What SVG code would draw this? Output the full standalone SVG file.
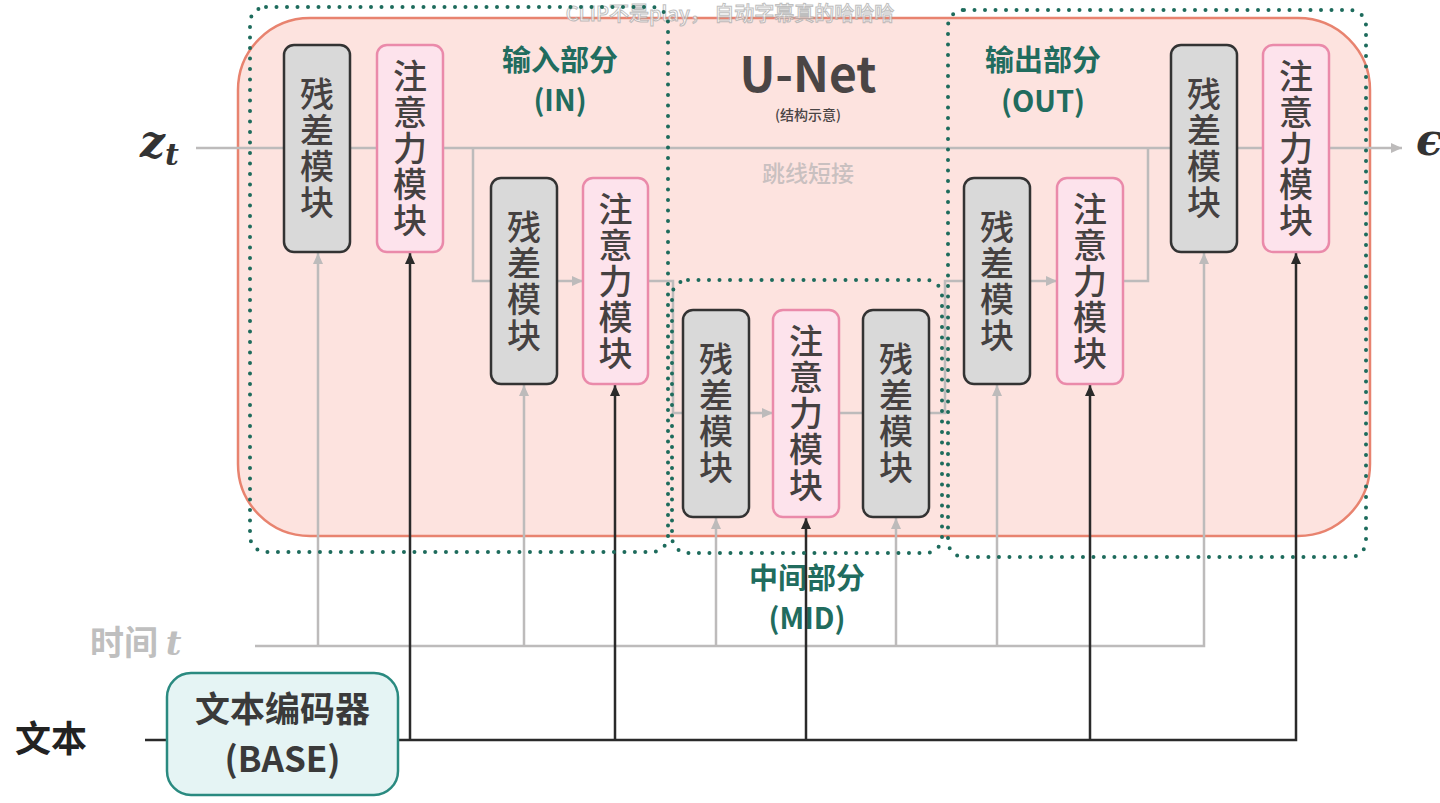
<svg xmlns="http://www.w3.org/2000/svg" width="1440" height="803" viewBox="0 0 1440 803">
<defs>
<style>
.res{fill:#d9d9d9;stroke:#333;stroke-width:2.5}
.att{fill:#fde3ec;stroke:#ea8aaa;stroke-width:2.5}
.blk{font-family:"Noto Sans CJK SC",sans-serif;font-weight:500;font-size:34px;fill:#454141;text-anchor:middle;writing-mode:vertical-rl;letter-spacing:2px}
.lab{font-family:"Noto Sans CJK SC",sans-serif;font-weight:700;font-size:29px;fill:#216c5e;text-anchor:middle}
.dot{fill:none;stroke:#1d6b5c;stroke-width:4;stroke-dasharray:0 10.5;stroke-linecap:round}
.g{fill:none;stroke:#bdbbbb;stroke-width:2.5}
.k{fill:none;stroke:#2a2a2a;stroke-width:2.5}
.math{font-family:"DejaVu Serif","Liberation Serif",serif;font-style:italic;font-weight:700}
</style>
<marker id="ag" markerUnits="userSpaceOnUse" markerWidth="12" markerHeight="12" viewBox="0 0 12 12" refX="11" refY="6" orient="auto"><path d="M0,1 L11,6 L0,11 Z" fill="#bdbbbb"/></marker>
<marker id="ak" markerUnits="userSpaceOnUse" markerWidth="12" markerHeight="12" viewBox="0 0 12 12" refX="11" refY="6" orient="auto"><path d="M0,1 L11,6 L0,11 Z" fill="#2a2a2a"/></marker>
</defs>
<rect width="1440" height="803" fill="#ffffff"/>

<g id="unet-frame">
<rect x="238" y="18" width="1132" height="518" rx="72" fill="#fde3df" stroke="#e8836f" stroke-width="2.5"/>
</g>

<g id="labels">
<text x="808" y="92" font-family="Noto Sans CJK SC,sans-serif" font-weight="700" font-size="48" fill="#4a4545" text-anchor="middle">U-Net</text>
<text x="808" y="120" font-family="Noto Sans CJK SC,sans-serif" font-weight="500" font-size="14" fill="#4a4545" text-anchor="middle">(结构示意)</text>
<text x="808" y="182" font-family="Noto Sans CJK SC,sans-serif" font-weight="500" font-size="23" fill="#c9c0c0" text-anchor="middle">跳线短接</text>
<text class="lab" x="560" y="71">输入部分</text>
<text class="lab" x="560" y="111">(IN)</text>
<text class="lab" x="1043" y="71">输出部分</text>
<text class="lab" x="1043" y="112">(OUT)</text>
<text class="lab" x="807" y="589">中间部分</text>
<text class="lab" x="807" y="629">(MID)</text>
<text class="math" x="140" y="157" font-size="44" fill="#333">z<tspan font-size="30" dy="8">t</tspan></text>
<text class="math" x="1416" y="155" font-size="44" fill="#333">ϵ</text>
<text x="90" y="655" font-family="Noto Sans CJK SC,sans-serif" font-weight="700" font-size="34" fill="#bfbfbf">时间 <tspan class="math" font-size="34">t</tspan></text>
<text x="15" y="752" font-family="Noto Sans CJK SC,sans-serif" font-weight="700" font-size="36" fill="#222">文本</text>
<text x="730" y="21" font-family="Noto Sans CJK SC,sans-serif" font-weight="500" font-size="20" fill="#ffffff" stroke="#b0b0b0" stroke-width="1" opacity="0.8" text-anchor="middle">CLIP不是play， 自动字幕真的哈哈哈</text>
</g>

<g id="connectors">
<path class="g" d="M196 148 H284"/>
<path class="g" d="M350 148 H377"/>
<path class="g" d="M443 148 H1171"/>
<path class="g" d="M1237 148 H1263"/>
<path class="g" d="M1329 148 H1402" marker-end="url(#ag)"/>
<path class="g" d="M473 148 V281 H491"/>
<path class="g" d="M557 281 H583" marker-end="url(#ag)"/>
<path class="g" d="M648 281 H673 V413 H683"/>
<path class="g" d="M749 413 H773" marker-end="url(#ag)"/>
<path class="g" d="M839 413 H863"/>
<path class="g" d="M929 413 H945 V281 H964"/>
<path class="g" d="M1030 281 H1057" marker-end="url(#ag)"/>
<path class="g" d="M1123 281 H1148 V148"/>
<path class="g" d="M255 646 H1204 V253" marker-end="url(#ag)"/>
<path class="g" d="M318 646 V253" marker-end="url(#ag)"/>
<path class="g" d="M524 646 V385" marker-end="url(#ag)"/>
<path class="g" d="M716 646 V518" marker-end="url(#ag)"/>
<path class="g" d="M896 646 V518" marker-end="url(#ag)"/>
<path class="g" d="M997 646 V385" marker-end="url(#ag)"/>
<path class="k" d="M145 740 H167"/>
<path class="k" d="M398 740 H1296 V253" marker-end="url(#ak)"/>
<path class="k" d="M410 740 V253" marker-end="url(#ak)"/>
<path class="k" d="M615 740 V385" marker-end="url(#ak)"/>
<path class="k" d="M806 740 V518" marker-end="url(#ak)"/>
<path class="k" d="M1090 740 V385" marker-end="url(#ak)"/>
</g>

<g id="in-res1"><rect class="res" x="284" y="45" width="66" height="207" rx="10"/><text class="blk" x="317" y="149.5">残差模块</text></g>
<g id="in-att1"><rect class="att" x="377" y="45" width="66" height="207" rx="10"/><text class="blk" x="410" y="149.5">注意力模块</text></g>
<g id="in-res2"><rect class="res" x="491" y="178" width="66" height="206" rx="10"/><text class="blk" x="524" y="282">残差模块</text></g>
<g id="in-att2"><rect class="att" x="583" y="178" width="65" height="206" rx="10"/><text class="blk" x="615.5" y="282">注意力模块</text></g>
<g id="mid-res1"><rect class="res" x="683" y="310" width="66" height="207" rx="10"/><text class="blk" x="716" y="414.5">残差模块</text></g>
<g id="mid-att"><rect class="att" x="773" y="310" width="66" height="207" rx="10"/><text class="blk" x="806" y="414.5">注意力模块</text></g>
<g id="mid-res2"><rect class="res" x="863" y="310" width="66" height="207" rx="10"/><text class="blk" x="896" y="414.5">残差模块</text></g>
<g id="out-res1"><rect class="res" x="964" y="178" width="66" height="206" rx="10"/><text class="blk" x="997" y="282">残差模块</text></g>
<g id="out-att1"><rect class="att" x="1057" y="178" width="66" height="206" rx="10"/><text class="blk" x="1090" y="282">注意力模块</text></g>
<g id="out-res2"><rect class="res" x="1171" y="45" width="66" height="207" rx="10"/><text class="blk" x="1204" y="149.5">残差模块</text></g>
<g id="out-att2"><rect class="att" x="1263" y="45" width="66" height="207" rx="10"/><text class="blk" x="1296" y="149.5">注意力模块</text></g>

<g id="text-encoder"><rect x="167" y="673" width="231" height="122" rx="24" fill="#e5f4f4" stroke="#2a8a80" stroke-width="2.5"/><text x="282.5" y="722" font-family="Noto Sans CJK SC,sans-serif" font-weight="700" font-size="35" fill="#3a3a3a" text-anchor="middle">文本编码器</text><text x="282.5" y="772" font-family="Noto Sans CJK SC,sans-serif" font-weight="700" font-size="35" fill="#3a3a3a" text-anchor="middle">(BASE)</text></g>

<g id="groups">
<rect id="in-part" class="dot" x="250" y="7" width="418" height="545" rx="16"/>
<rect id="mid-part" class="dot" x="672" y="280" width="270" height="273" rx="16"/>
<rect id="out-part" class="dot" x="948" y="10" width="418" height="547" rx="16"/>
</g>
</svg>
